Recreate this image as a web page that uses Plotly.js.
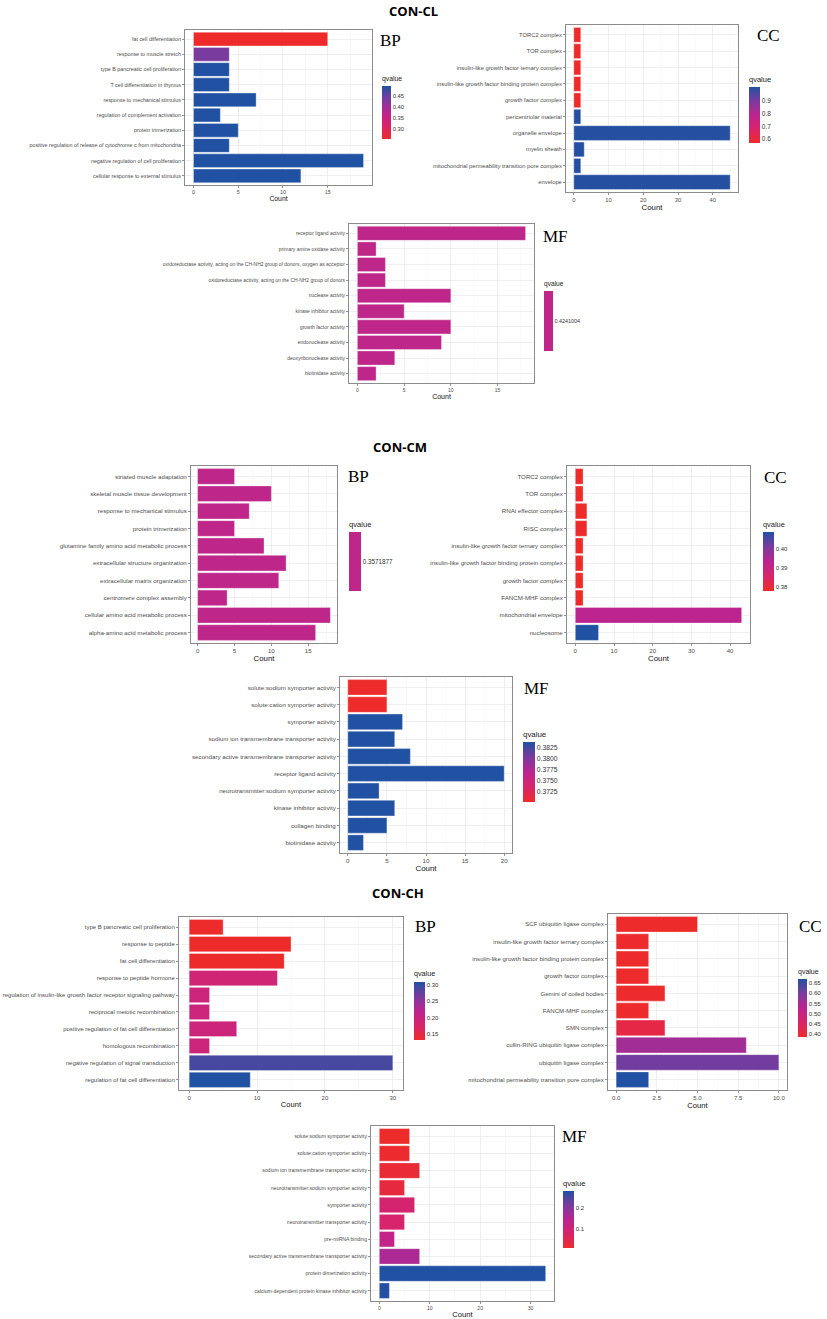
<!DOCTYPE html>
<html><head><meta charset="utf-8">
<script src="https://cdn.plot.ly/plotly-3.0.1.min.js"></script>
<style>body{margin:0;background:#fff}#chart{width:827px;height:1319px}</style>
</head><body><div id="chart"></div>
<script>
// ---------- DATA ----------
const cl_bp_terms = ["fat cell differentiation","response to muscle stretch","type B pancreatic cell proliferation","T cell differentiation in thymus","response to mechanical stimulus","regulation of complement activation","protein trimerization","positive regulation of release of cytochrome c from mitochondria","negative regulation of cell proliferation","cellular response to external stimulus"];
const cl_bp_count = [15,4,4,4,7,3,5,4,19,12];
const cl_bp_q = [0.256,0.435,0.494,0.494,0.494,0.494,0.494,0.494,0.494,0.494];

const cl_cc_terms = ["TORC2 complex","TOR complex","insulin-like growth factor ternary complex","insulin-like growth factor binding protein complex","growth factor complex","pericentriolar material","organelle envelope","myelin sheath","mitochondrial permeability transition pore complex","envelope"];
const cl_cc_count = [2,2,2,2,2,2,45,3,2,45];
const cl_cc_q = [0.57,0.57,0.57,0.57,0.57,1.0,1.0,1.0,1.0,1.0];

const cl_mf_terms = ["receptor ligand activity","primary amine oxidase activity","oxidoreductase activity, acting on the CH-NH2 group of donors, oxygen as acceptor","oxidoreductase activity, acting on the CH-NH2 group of donors","nuclease activity","kinase inhibitor activity","growth factor activity","endonuclease activity","deoxyribonuclease activity","biotinidase activity"];
const cl_mf_count = [18,2,3,3,10,5,10,9,4,2];
const cl_mf_q = [0.4241004,0.4241004,0.4241004,0.4241004,0.4241004,0.4241004,0.4241004,0.4241004,0.4241004,0.4241004];

const cm_bp_terms = ["striated muscle adaptation","skeletal muscle tissue development","response to mechanical stimulus","protein trimerization","glutamine family amino acid metabolic process","extracellular structure organization","extracellular matrix organization","centromere complex assembly","cellular amino acid metabolic process","alpha-amino acid metabolic process"];
const cm_bp_count = [5,10,7,5,9,12,11,4,18,16];
const cm_bp_q = [0.3571877,0.3571877,0.3571877,0.3571877,0.3571877,0.3571877,0.3571877,0.3571877,0.3571877,0.3571877];

const cm_cc_terms = ["TORC2 complex","TOR complex","RNAi effector complex","RISC complex","insulin-like growth factor ternary complex","insulin-like growth factor binding protein complex","growth factor complex","FANCM-MHF complex","mitochondrial envelope","nucleosome"];
const cm_cc_count = [2,2,3,3,2,2,2,2,43,6];
const cm_cc_q = [0.378,0.378,0.378,0.378,0.378,0.378,0.378,0.378,0.393,0.4085];

const cm_mf_terms = ["solute:sodium symporter activity","solute:cation symporter activity","symporter activity","sodium ion transmembrane transporter activity","secondary active transmembrane transporter activity","receptor ligand activity","neurotransmitter:sodium symporter activity","kinase inhibitor activity","collagen binding","biotinidase activity"];
const cm_mf_count = [5,5,7,6,8,20,4,6,5,2];
const cm_mf_q = [0.370,0.370,0.3838,0.3838,0.3838,0.3838,0.3838,0.3838,0.3838,0.3838];

const ch_bp_terms = ["type B pancreatic cell proliferation","response to peptide","fat cell differentiation","response to peptide hormone","regulation of insulin-like growth factor receptor signaling pathway","reciprocal meiotic recombination","positive regulation of fat cell differentiation","homologous recombination","negative regulation of signal transduction","regulation of fat cell differentiation"];
const ch_bp_count = [5,15,14,13,3,3,7,3,30,9];
const ch_bp_q = [0.132,0.132,0.132,0.188,0.196,0.196,0.196,0.196,0.290,0.309];

const ch_cc_terms = ["SCF ubiquitin ligase complex","insulin-like growth factor ternary complex","insulin-like growth factor binding protein complex","growth factor complex","Gemini of coiled bodies","FANCM-MHF complex","SMN complex","cullin-RING ubiquitin ligase complex","ubiquitin ligase complex","mitochondrial permeability transition pore complex"];
const ch_cc_count = [5,2,2,2,3,2,3,8,10,2];
const ch_cc_q = [0.386,0.388,0.388,0.388,0.388,0.388,0.415,0.555,0.605,0.669];

const ch_mf_terms = ["solute:sodium symporter activity","solute:cation symporter activity","sodium ion transmembrane transporter activity","neurotransmitter:sodium symporter activity","symporter activity","neurotransmitter transporter activity","pre-miRNA binding","secondary active transmembrane transporter activity","protein dimerization activity","calcium-dependent protein kinase inhibitor activity"];
const ch_mf_count = [6,6,8,5,7,5,3,8,33,2];
const ch_mf_q = [0.008,0.012,0.02,0.03,0.085,0.08,0.13,0.16,0.283,0.28];

const cbar_ticks = {
  cl_bp: ["0.30","0.35","0.40","0.45"],
  cl_cc: ["0.6","0.7","0.8","0.9"],
  cl_mf: ["0.4241004"],
  cm_bp: ["0.3571877"],
  cm_cc: ["0.38","0.39","0.40"],
  cm_mf: ["0.3725","0.3750","0.3775","0.3800","0.3825"],
  ch_bp: ["0.15","0.20","0.25","0.30"],
  ch_cc: ["0.40","0.45","0.50","0.55","0.60","0.65"],
  ch_mf: ["0.1","0.2"]
};
const x_ticks = {
  cl_bp: ["0","5","10","15"],
  cl_cc: ["0","10","20","30","40"],
  cl_mf: ["0","5","10","15"],
  cm_bp: ["0","5","10","15"],
  cm_cc: ["0","10","20","30","40"],
  cm_mf: ["0","5","10","15","20"],
  ch_bp: ["0","10","20","30"],
  ch_cc: ["0.0","2.5","5.0","7.5","10.0"],
  ch_mf: ["0","10","20","30"]
};
const group_titles = ["CON-CL","CON-CM","CON-CH"];

// ---------- LAYOUT ----------
const W = 827, H = 1319;
const fx = p => p / W, fy = p => 1 - p / H;
const gradScale = [[0,'#EE2B2B'],[0.25,'#D8246A'],[0.5,'#BB2490'],[0.75,'#7A3B9E'],[1,'#2151A2']];
const flatColor = '#BE268A';

const panels = [
  {key:'cl_bp', terms:cl_bp_terms, count:cl_bp_count, q:cl_bp_q, cmin:0.256, cmax:0.494, box:[185,372,30,185], cb:[382,85,9,54], lab:'BP', labpos:[378,41], fs:5.35, cbf:5.8, cbt:6.8, cf:6.8},
  {key:'cl_cc', terms:cl_cc_terms, count:cl_cc_count, q:cl_cc_q, cmin:0.57, cmax:1.005, box:[566,738,25,192], cb:[749,85,11,58], lab:'CC', labpos:[755,36], fs:5.8, cbf:6.5, cbt:7.5, cf:7.8},
  {key:'cl_mf', terms:cl_mf_terms, count:cl_mf_count, q:cl_mf_q, flat:true, box:[349,534,224,383], cb:[544,290,9,61], lab:'MF', labpos:[541,237], fs:4.95, cbf:5.4, cbt:6.6, cf:7.0},
  {key:'cm_bp', terms:cm_bp_terms, count:cm_bp_count, q:cm_bp_q, flat:true, box:[191,337,466,643], cb:[349,530,12,61], lab:'BP', labpos:[346,476], fs:6.15, cbf:6.3, cbt:7.6, cf:7.8},
  {key:'cm_cc', terms:cm_cc_terms, count:cm_cc_count, q:cm_cc_q, cmin:0.378, cmax:0.4085, box:[567,750,466,643], cb:[763,530,11,61], lab:'CC', labpos:[762,477], fs:6.15, cbf:6.0, cbt:7.4, cf:7.8},
  {key:'cm_mf', terms:cm_mf_terms, count:cm_mf_count, q:cm_mf_q, cmin:0.370, cmax:0.3838, box:[340,512,677,853], cb:[523,740,12,62], lab:'MF', labpos:[522,688], fs:6.2, cbf:6.8, cbt:7.9, cf:7.9},
  {key:'ch_bp', terms:ch_bp_terms, count:ch_bp_count, q:ch_bp_q, cmin:0.132, cmax:0.309, box:[179,403,917,1090], cb:[414,980,11,60], lab:'BP', labpos:[413,927], fs:6.0, cbf:6.0, cbt:7.2, cf:7.6},
  {key:'ch_cc', terms:ch_cc_terms, count:ch_cc_count, q:ch_cc_q, cmin:0.386, cmax:0.669, box:[608,787,914,1090], cb:[798,978,9,59], lab:'CC', labpos:[797,926], fs:6.1, cbf:6.2, cbt:7.0, cf:7.6},
  {key:'ch_mf', terms:ch_mf_terms, count:ch_mf_count, q:ch_mf_q, cmin:0.008, cmax:0.283, box:[371,554,1126,1301], cb:[563,1189,11,59], lab:'MF', labpos:[560,1136], fs:5.1, cbf:6.0, cbt:7.6, cf:7.6}
];

const data = [];
const layout = {
  width: W, height: H, margin:{l:0,r:0,t:0,b:0},
  paper_bgcolor:'#fff', plot_bgcolor:'#fff', showlegend:false,
  bargap: 0.1,
  font:{family:'Liberation Sans, Arial, sans-serif', color:'#4D4D4D'},
  annotations: []
};

panels.forEach((p, i) => {
  const n = i + 1;
  const xa = 'x' + (n === 1 ? '' : n), ya = 'y' + (n === 1 ? '' : n);
  const maxC = Math.max(...p.count);
  const tv = x_ticks[p.key].map(Number);
  const dt = tv[1] - tv[0];
  const cbt = cbar_ticks[p.key];
  const marker = {
    color: p.q, showscale: true,
    line: {color:'rgba(255,255,255,0.55)', width:0.6},
    colorbar: {
      x: fx(p.cb[0]), xanchor:'left', y: fy(p.cb[1] - 12), yanchor:'top',
      thickness: p.cb[2], len: p.cb[3] + 12, lenmode:'pixels',
      xpad:0, ypad:0, outlinewidth:0, ticks:'',
      title:{text:'qvalue', side:'top', font:{size:p.cbt, color:'#1a1a1a'}},
      tickfont:{size:p.cbf, color:'#333'},
      tickvals: cbt.map(Number), ticktext: cbt
    }
  };
  if (p.flat) {
    marker.colorscale = [[0, flatColor],[1, flatColor]];
    marker.cmin = p.q[0] - 1e-6; marker.cmax = p.q[0] + 1e-6;
  } else {
    marker.colorscale = gradScale; marker.cmin = p.cmin; marker.cmax = p.cmax;
  }
  data.push({
    type:'bar', orientation:'h', x: p.count, y: p.terms,
    xaxis: xa, yaxis: ya, marker: marker, hoverinfo:'x+y'
  });
  const xk = 'xaxis' + (n === 1 ? '' : n), yk = 'yaxis' + (n === 1 ? '' : n);
  layout[xk] = {
    domain:[fx(p.box[0]), fx(p.box[1])], anchor: ya,
    range:[-0.05 * maxC, 1.05 * maxC], tickvals: tv, ticktext: x_ticks[p.key],
    showline:true, mirror:true, linecolor:'#8C8C8C', linewidth:1,
    ticks:'outside', ticklen:2, tickcolor:'#4D4D4D', tickwidth:0.6,
    tickfont:{size:p.fs, color:'#4D4D4D'},
    showgrid:true, gridcolor:'#EBEBEB', gridwidth:0.8, zeroline:false,
    minor:{dtick: dt/2, showgrid:true, gridcolor:'#F4F4F4', gridwidth:0.5},
    title:{text:'Count', font:{size:p.cf, color:'#111'}, standoff:1}
  };
  layout[yk] = {
    domain:[fy(p.box[3]), fy(p.box[2])], anchor: xa,
    type:'category', categoryorder:'array', categoryarray: p.terms,
    range:[9.6, -0.6],
    showline:true, mirror:true, linecolor:'#8C8C8C', linewidth:1,
    ticks:'outside', ticklen:2, tickcolor:'#4D4D4D', tickwidth:0.6,
    tickfont:{size:p.fs, color:'#4D4D4D'},
    showgrid:true, gridcolor:'#EBEBEB', gridwidth:0.8, zeroline:false
  };
  layout.annotations.push({
    text: p.lab, xref:'paper', yref:'paper', x: fx(p.labpos[0]), y: fy(p.labpos[1]),
    xanchor:'left', yanchor:'middle', showarrow:false,
    font:{family:'Liberation Serif, Times New Roman, serif', size:17, color:'#000'}
  });
});

const titlePos = [[413,11],[400,447],[398,893]];
group_titles.forEach((t, i) => {
  layout.annotations.push({
    text:'<b>' + t + '</b>', xref:'paper', yref:'paper',
    x: fx(titlePos[i][0]), y: fy(titlePos[i][1]), xanchor:'center', yanchor:'middle',
    showarrow:false, font:{family:'Open Sans, Liberation Sans, sans-serif', size:13, color:'#000'}
  });
});

Plotly.newPlot('chart', data, layout, {displayModeBar:false, staticPlot:true});
</script></body></html>
